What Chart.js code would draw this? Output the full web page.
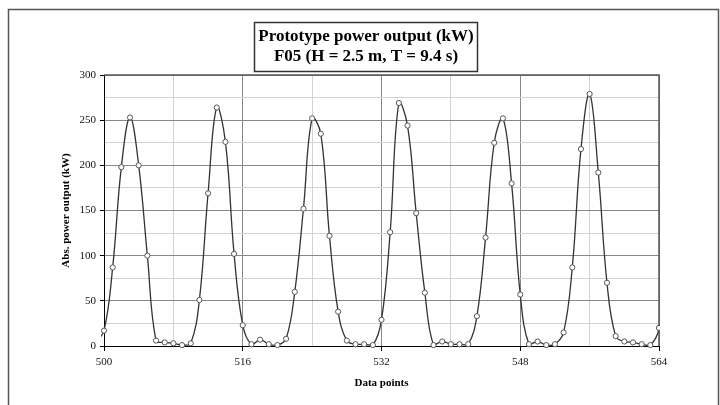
<!DOCTYPE html>
<html>
<head>
<meta charset="utf-8">
<style>
  html, body { margin: 0; padding: 0; background: #fff; }
  #wrap { width: 720px; height: 405px; }
</style>
<script src="https://cdn.jsdelivr.net/npm/chart.js@4/dist/chart.umd.min.js"></script>
</head>
<body>
<div id="wrap"><canvas id="c" width="720" height="405"></canvas></div>
<script>
// ---- data ----
const titleLines = ['Prototype power output (kW)', 'F05 (H = 2.5 m, T = 9.4 s)'];
const xTitle = 'Data points';
const yTitle = 'Abs. power output (kW)';
const dataPoints = [499,500,501,502,503,504,505,506,507,508,509,510,511,512,513,514,515,516,517,518,519,520,
  521,522,523,524,525,526,527,528,529,530,531,532,533,534,535,536,537,538,539,540,541,542,543,544,545,546,547,548,
  549,550,551,552,553,554,555,556,557,558,559,560,561,562,563,564,565];
const powerKW = [4,17,87,198,253,200,100,6,4,3,1,3,51,169,264,226,102,23,2,7,2,1,
  8,60,152,252,235,122,38,6,2,2,1,29,126,269,244,147,59,1,5,2,2,2,33,120,225,252,180,57,
  2,5,1,2,15,87,218,279,192,70,11,5,4,2,1,20,130];
const xMin = 500, xMax = 564, xStep = 8, xLabelEvery = 16;
const yMin = 0, yMax = 300, yStep = 25, yLabelEvery = 50;

const serif = "'Liberation Serif', 'Times New Roman', serif";
const majorGrid = '#888888', minorGrid = '#d2d2d2';
const titleSize = 17;

const framePlugin = {
  id: 'frames',
  beforeDatasetsDraw(chart) {
    const {ctx, chartArea: a} = chart;
    ctx.save();
    ctx.strokeStyle = '#555';
    ctx.lineWidth = 1.5;
    ctx.beginPath();
    ctx.moveTo(a.left, a.top);
    ctx.lineTo(a.right, a.top);
    ctx.lineTo(a.right, a.bottom);
    ctx.stroke();
    ctx.restore();
  },
  afterDraw(chart) {
    const ctx = chart.ctx;
    ctx.save();
    // outer frame
    ctx.strokeStyle = '#555';
    ctx.lineWidth = 1.5;
    ctx.strokeRect(8.5, 9.5, 710, 410);
    // title box
    const tb = chart.titleBlock;
    if (tb) {
      ctx.font = 'bold ' + titleSize + 'px ' + serif;
      let w = 0;
      titleLines.forEach(t => { w = Math.max(w, ctx.measureText(t).width); });
      const cx = (tb.left + tb.right) / 2;
      const bw = w + 8;
      ctx.strokeStyle = '#333';
      ctx.lineWidth = 1.5;
      ctx.strokeRect(Math.round(cx - bw / 2) + 0.5, tb.top + 22.5, Math.round(bw), 49);
    }
    ctx.restore();
  }
};

new Chart(document.getElementById('c'), {
  type: 'line',
  data: {
    datasets: [{
      data: dataPoints.map((x, i) => ({x: x, y: powerKW[i]})),
      borderColor: '#333',
      borderWidth: 1.3,
      tension: 0.4,
      pointRadius: 2.6,
      pointBorderWidth: 1,
      pointBorderColor: '#555',
      pointBackgroundColor: '#fff',
      clip: {left: 3, top: 5, right: 1, bottom: 2}
    }]
  },
  options: {
    responsive: false,
    animation: false,
    layout: { padding: { left: 12, right: 0, top: 0, bottom: 0 } },
    plugins: {
      legend: { display: false },
      tooltip: { enabled: false },
      title: {
        display: true,
        text: titleLines,
        color: '#000',
        font: { family: serif, size: titleSize, weight: 'bold', lineHeight: '20px' },
        padding: { top: 27, bottom: 8 }
      }
    },
    scales: {
      x: {
        type: 'linear',
        min: xMin, max: xMax,
        afterFit(s) { s.height = 59; },
        ticks: {
          stepSize: xStep,
          autoSkip: false,
          maxRotation: 0,
          padding: 5,
          color: '#111',
          font: { family: serif, size: 11 },
          callback: v => ((v - xMin) % xLabelEvery === 0 ? String(v) : '')
        },
        grid: {
          color: c => (((c.tick.value - xMin) % xLabelEvery === 0) ? majorGrid : minorGrid),
          tickColor: c => (((c.tick.value - xMin) % xLabelEvery === 0) ? '#000' : 'rgba(0,0,0,0)'),
          tickLength: 5,
          lineWidth: 1
        },
        border: { display: true, color: '#000', width: 1 },
        title: {
          display: true,
          text: xTitle,
          color: '#000',
          font: { family: serif, size: 11, weight: 'bold' },
          padding: { top: 0, bottom: 15 }
        }
      },
      y: {
        min: yMin, max: yMax,
        afterFit(s) { s.width = 92; },
        ticks: {
          stepSize: yStep,
          autoSkip: false,
          padding: 4,
          color: '#111',
          font: { family: serif, size: 11 },
          callback: v => (v % yLabelEvery === 0 ? String(v) : '')
        },
        grid: {
          color: c => ((c.tick.value % yLabelEvery === 0) ? majorGrid : minorGrid),
          tickColor: c => ((c.tick.value % yLabelEvery === 0) ? '#000' : 'rgba(0,0,0,0)'),
          tickLength: 4,
          lineWidth: 1
        },
        border: { display: true, color: '#000', width: 1 },
        title: {
          display: true,
          text: yTitle,
          color: '#000',
          font: { family: serif, size: 11, weight: 'bold' },
          padding: { top: 48, bottom: 0 }
        }
      },
      yRight: {
        position: 'right',
        min: yMin, max: yMax,
        afterFit(s) { s.width = 61; },
        ticks: { display: false },
        grid: { display: false },
        border: { display: false }
      }
    }
  },
  plugins: [framePlugin]
});
</script>
</body>
</html>
